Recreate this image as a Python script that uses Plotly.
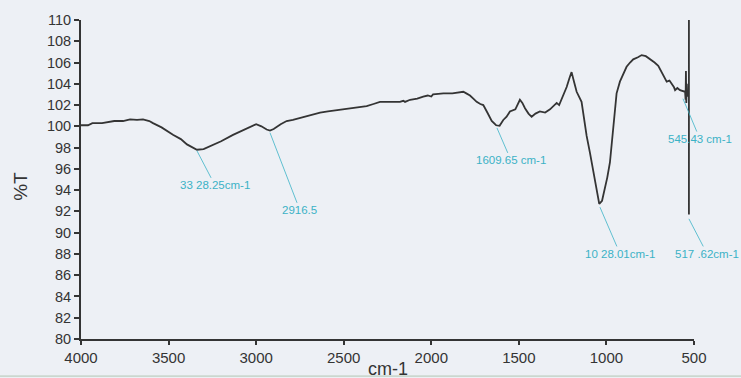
import plotly.graph_objects as go

# ---- data ----
wavenumber = [
    4000, 3960, 3935, 3880, 3810, 3760, 3720, 3680, 3646, 3610, 3589, 3540,
    3475, 3430, 3395, 3360, 3338, 3300, 3263, 3200, 3132, 3080, 3035, 3000,
    2970, 2940, 2921, 2900, 2860, 2826, 2790, 2750, 2700, 2635, 2590, 2540,
    2500, 2464, 2420, 2369, 2330, 2293, 2240, 2179, 2160, 2150, 2121, 2080,
    2046, 2020, 2000, 1990, 1960, 1931, 1880, 1840, 1817, 1800, 1779, 1760,
    1741, 1720, 1703, 1680, 1655, 1630, 1610, 1589, 1570, 1551, 1520, 1494,
    1480, 1465, 1445, 1427, 1405, 1380, 1350, 1322, 1300, 1284, 1270, 1250,
    1227, 1210, 1199, 1185, 1170, 1142, 1113, 1094, 1075, 1056, 1041, 1025,
    1008, 995, 980, 961, 942, 923, 900, 885, 865, 847, 820, 799, 775, 751,
    725, 704, 690, 675, 656, 640, 627, 615, 608, 595, 580, 565, 551, 548,
    546, 544, 541, 538, 535, 531, 529, 529, 529,
]
transmittance = [
    100.1, 100.1, 100.3, 100.3, 100.5, 100.5, 100.65, 100.6, 100.65, 100.5, 100.3, 99.9,
    99.2, 98.8, 98.3, 97.95, 97.8, 97.85, 98.1, 98.6, 99.2, 99.6, 100.0, 100.2,
    100.0, 99.7, 99.6, 99.75, 100.2, 100.5, 100.6, 100.8, 101.0, 101.3, 101.4, 101.5,
    101.6, 101.65, 101.8, 101.9, 102.1, 102.3, 102.3, 102.3, 102.4, 102.3, 102.5, 102.6,
    102.8, 102.9, 102.8, 103.0, 103.05, 103.1, 103.1, 103.2, 103.25, 103.1, 102.9, 102.6,
    102.3, 102.1, 102.0, 101.3, 100.5, 100.1, 100.05, 100.6, 100.9, 101.4, 101.6, 102.5,
    102.2, 101.7, 101.2, 100.9, 101.2, 101.4, 101.3, 101.6, 101.9, 102.2, 102.0, 102.8,
    103.7, 104.6, 105.1, 104.2, 103.25, 102.3, 99.1, 97.5, 95.7, 93.8, 92.7, 93.0,
    94.1, 95.2, 96.6, 99.7, 103.1, 104.2, 105.0, 105.6, 106.0, 106.3, 106.5, 106.7, 106.6, 106.35,
    106.0, 105.7, 105.3, 104.8, 104.2, 104.3, 104.0, 103.7, 103.4, 103.6, 103.4, 103.3, 103.25, 102.5,
    105.2, 102.2, 104.0, 102.8, 103.0, 103.0, 103.0, 110.0, 91.7,
]

y_ticks = list(range(80, 111, 2))
x_ticks = [4000, 3500, 3000, 2500, 2000, 1500, 1000, 500]

# peak labels: (peak wn, peak %T, text, label wn, label %T)
peak_wn = [3338, 2921, 1625, 563, 1037, 529]
peak_t = [97.7, 99.4, 99.85, 102.6, 92.4, 91.3]
peak_text = ["33 28.25cm-1", "2916.5", "1609.65 cm-1", "545.43 cm-1",
             "10 28.01cm-1", "517 .62cm-1"]
label_wn = [3235, 2750, 1545, 466, 922, 425]
label_t = [94.45, 92.1, 96.8, 98.8, 88.0, 88.0]

ink = "#343434"
cyan = "#3bb2c6"
paper = "#edf0f5"
font = "Liberation Sans, Arial, sans-serif"

fig = go.Figure()
fig.add_trace(go.Scatter(
    x=wavenumber, y=transmittance, mode="lines",
    line=dict(color=ink, width=1.8), showlegend=False, hoverinfo="skip",
))

annotations = []
for pw, pt, txt, lw, lt in zip(peak_wn, peak_t, peak_text, label_wn, label_t):
    annotations.append(dict(
        x=pw, y=pt, xref="x", yref="y",
        ax=lw, ay=lt, axref="x", ayref="y",
        text=txt, showarrow=True, arrowhead=0, arrowwidth=0.8,
        arrowcolor=cyan, standoff=0, startstandoff=0,
        font=dict(family=font, size=11.5, color=cyan),
    ))

annotations.append(dict(
    text="%T", xref="paper", yref="paper", x=-0.098, y=0.48,
    xanchor="center", yanchor="middle", textangle=-90, showarrow=False,
    font=dict(family=font, size=19, color=ink),
))
annotations.append(dict(
    text="cm-1", xref="paper", yref="paper", x=0.5, y=-0.093,
    xanchor="center", yanchor="middle", showarrow=False,
    font=dict(family=font, size=18, color=ink),
))

fig.update_layout(
    width=741, height=378,
    margin=dict(l=81, r=47, t=16, b=39),
    paper_bgcolor=paper, plot_bgcolor=paper,
    showlegend=False,
    annotations=annotations,
    shapes=[dict(type="rect", xref="paper", yref="paper",
                 x0=-0.2, x1=1.2, y0=-0.1195, y1=-0.114,
                 fillcolor="#cbd8cf", line=dict(width=0), layer="below")],
)
fig.update_xaxes(
    range=[4000, 500], tickvals=x_ticks, ticktext=[str(v) for v in x_ticks],
    showgrid=False, zeroline=False, showline=True, linecolor=ink, linewidth=2,
    ticks="outside", ticklen=4, tickwidth=1.5, tickcolor=ink,
    tickfont=dict(family=font, size=15, color=ink),
)
fig.update_yaxes(
    range=[80, 110], tickvals=y_ticks, ticktext=[str(v) for v in y_ticks],
    showgrid=False, zeroline=False, showline=True, linecolor=ink, linewidth=2,
    ticks="outside", ticklen=5, tickwidth=1.5, tickcolor=ink,
    tickfont=dict(family=font, size=14.5, color=ink),
)

fig.write_html("out.html")
